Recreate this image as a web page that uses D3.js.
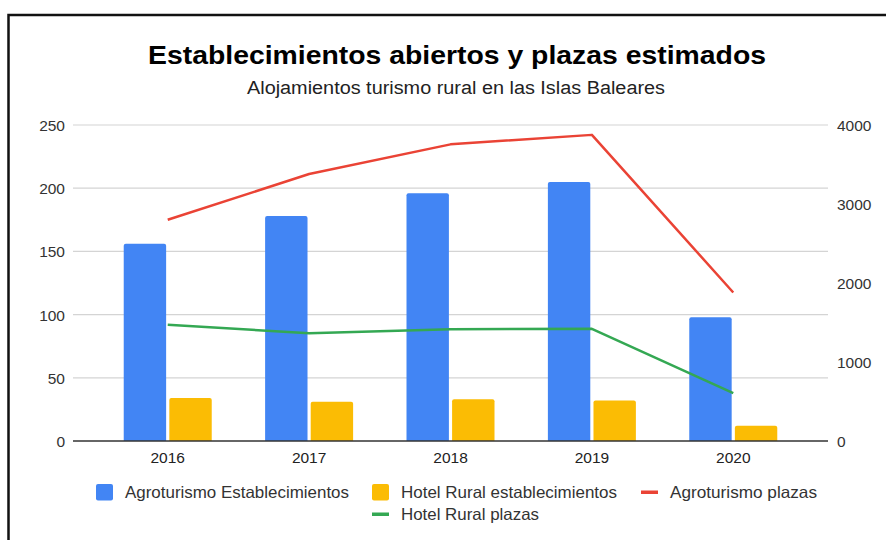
<!DOCTYPE html>
<html>
<head>
<meta charset="utf-8">
<script src="https://cdn.jsdelivr.net/npm/d3@7"></script>
<style>
  body { margin: 0; background: #fff; }
  svg { display: block; font-family: "Liberation Sans", Arial, sans-serif; }
</style>
</head>
<body>
<svg id="chart" width="886" height="540"></svg>
<script>
// data
var years = ["2016", "2017", "2018", "2019", "2020"];
var agroEstab = [156, 178, 196, 205, 98];
var hotelEstab = [34, 31, 33, 32, 12];
var agroPlazas = [2800, 3380, 3755, 3875, 1880];
var hotelPlazas = [1470, 1365, 1415, 1420, 605];
var leftTicks = [0, 50, 100, 150, 200, 250];
var rightTicks = [0, 1000, 2000, 3000, 4000];

var barSeries = ["Agroturismo Establecimientos", "Hotel Rural establecimientos"];
var lineSeries = ["Agroturismo plazas", "Hotel Rural plazas"];
var colors = { bar: ["#4285f4", "#fbbc04"], line: ["#ea4335", "#34a853"] };

var svg = d3.select("#chart");
var margin = { left: 73, right: 58, top: 125, bottom: 99 };
var w = 886, h = 540;

// frame round the chart
svg.append("rect")
    .attr("x", 8.5).attr("y", 15)
    .attr("width", 900).attr("height", 600)
    .attr("fill", "none")
    .attr("stroke", "#111")
    .attr("stroke-width", 2.5);

svg.append("text")
    .attr("x", 457).attr("y", 64)
    .attr("text-anchor", "middle")
    .attr("textLength", 618).attr("lengthAdjust", "spacingAndGlyphs")
    .style("font-size", "26px").style("font-weight", "bold")
    .attr("fill", "#000")
    .text("Establecimientos abiertos y plazas estimados");

svg.append("text")
    .attr("x", 456).attr("y", 94)
    .attr("text-anchor", "middle")
    .attr("textLength", 418).attr("lengthAdjust", "spacingAndGlyphs")
    .style("font-size", "18px")
    .attr("fill", "#222")
    .text("Alojamientos turismo rural en las Islas Baleares");

var x = d3.scaleBand()
    .domain(years)
    .range([margin.left, w - margin.right])
    .paddingInner(0)
    .paddingOuter(0.17);

var x1 = d3.scaleBand()
    .domain(barSeries)
    .range([x.bandwidth() / 2 - 44, x.bandwidth() / 2 + 44])
    .paddingInner(0.07);

var y = d3.scaleLinear().domain([0, 250]).range([h - margin.bottom, margin.top]);
var y2 = d3.scaleLinear().domain([0, 4000]).range([h - margin.bottom, margin.top]);

// grid
svg.append("g")
    .selectAll("line")
    .data(leftTicks.slice(1))
    .enter()
    .append("line")
    .attr("x1", margin.left).attr("x2", w - margin.right)
    .attr("y1", function(d) { return y(d); })
    .attr("y2", function(d) { return y(d); })
    .attr("stroke", "#d4d4d4")
    .attr("stroke-width", 1.2);

var yAxis = svg.append("g")
    .attr("transform", "translate(" + (margin.left - 8) + ",0)")
    .call(d3.axisLeft(y).tickValues(leftTicks).tickSize(0).tickPadding(0));
yAxis.select(".domain").remove();
yAxis.selectAll("text")
    .style("font-size", "15.5px")
    .attr("fill", "#333")
    .attr("dy", "0.35em");

var yAxis2 = svg.append("g")
    .attr("transform", "translate(" + (w - margin.right + 9) + ",0)")
    .call(d3.axisRight(y2).tickValues(rightTicks).tickFormat(d3.format("d")).tickSize(0).tickPadding(0));
yAxis2.select(".domain").remove();
yAxis2.selectAll("text")
    .style("font-size", "15.5px")
    .attr("fill", "#333")
    .attr("dy", "0.35em");

var groups = svg.append("g")
    .selectAll("g")
    .data(years)
    .enter()
    .append("g")
    .attr("transform", function(d) { return "translate(" + x(d) + ",0)"; });

groups.selectAll("path")
    .data(function(d, i) {
        return [agroEstab[i], hotelEstab[i]].map(function(v, k) { return { k: k, v: v }; });
    })
    .enter()
    .append("path")
    .attr("d", function(d) {
        var x0 = x1(barSeries[d.k]), bw = x1.bandwidth();
        var top = y(d.v), base = y(0), r = 2;
        return "M" + x0 + "," + base + "V" + (top + r) +
            "Q" + x0 + "," + top + " " + (x0 + r) + "," + top +
            "H" + (x0 + bw - r) +
            "Q" + (x0 + bw) + "," + top + " " + (x0 + bw) + "," + (top + r) +
            "V" + base + "Z";
    })
    .attr("fill", function(d) { return colors.bar[d.k]; });

// baseline
svg.append("line")
    .attr("x1", margin.left).attr("x2", w - margin.right)
    .attr("y1", y(0)).attr("y2", y(0))
    .attr("stroke", "#333").attr("stroke-width", 1.3);

var line = d3.line()
    .x(function(d, i) { return x(years[i]) + x.bandwidth() / 2; })
    .y(function(d) { return y2(d); });

[agroPlazas, hotelPlazas].forEach(function(s, k) {
    svg.append("path")
        .datum(s)
        .attr("d", line)
        .attr("fill", "none")
        .attr("stroke", colors.line[k])
        .attr("stroke-width", 2.5)
        .attr("stroke-linejoin", "round");
});

var xAxis = svg.append("g")
    .attr("transform", "translate(0," + (y(0) + 8) + ")")
    .call(d3.axisBottom(x).tickSize(0).tickPadding(0));
xAxis.select(".domain").remove();
xAxis.selectAll("text")
    .style("font-size", "15.5px")
    .attr("fill", "#222")
    .attr("dy", "0.9em");

// legend
var legendItems = [
    { name: barSeries[0], color: colors.bar[0], type: "bar", x: 96, y: 492, len: 224 },
    { name: barSeries[1], color: colors.bar[1], type: "bar", x: 372, y: 492, len: 216 },
    { name: lineSeries[0], color: colors.line[0], type: "line", x: 641, y: 492, len: 147 },
    { name: lineSeries[1], color: colors.line[1], type: "line", x: 372, y: 514, len: 138 }
];

var leg = svg.append("g")
    .selectAll("g")
    .data(legendItems)
    .enter()
    .append("g")
    .attr("transform", function(d) { return "translate(" + d.x + "," + d.y + ")"; });

leg.append("rect")
    .attr("x", 0)
    .attr("y", function(d) { return d.type == "bar" ? -8 : -1.5; })
    .attr("width", 17)
    .attr("height", function(d) { return d.type == "bar" ? 16.5 : 3.5; })
    .attr("rx", function(d) { return d.type == "bar" ? 2 : 0; })
    .attr("fill", function(d) { return d.color; });

leg.append("text")
    .attr("x", function(d) { return d.type == "bar" ? 29 : 29; })
    .attr("y", 5.5)
    .attr("textLength", function(d) { return d.len; })
    .attr("lengthAdjust", "spacingAndGlyphs")
    .style("font-size", "16.5px")
    .attr("fill", "#333")
    .text(function(d) { return d.name; });
</script>
</body>
</html>
